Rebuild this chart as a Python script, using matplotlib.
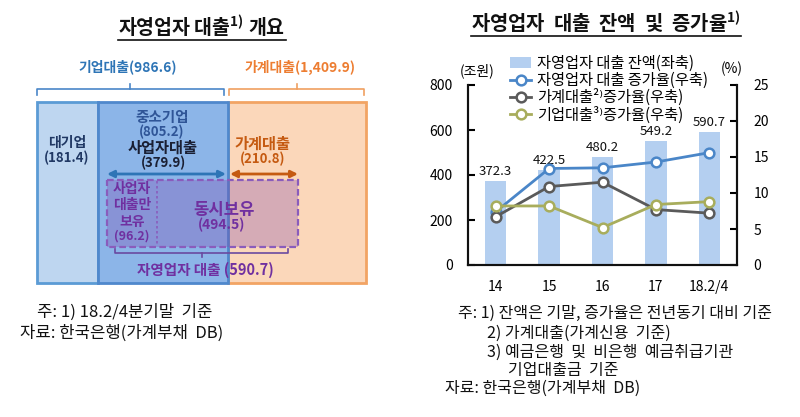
import matplotlib
matplotlib.use('Agg')
import matplotlib.pyplot as plt
from matplotlib.patches import Rectangle

plt.rcParams['font.family'] = ['Noto Sans CJK KR', 'DejaVu Sans']
plt.rcParams['axes.unicode_minus'] = False

# ---- right chart data ----
years = ['14', '15', '16', '17', '18.2/4']
balance = [372.3, 422.5, 480.2, 549.2, 590.7]          # 조원, left axis
growth_self = [7.4, 13.4, 13.5, 14.3, 15.6]            # %, right axis
growth_house = [6.7, 10.9, 11.5, 7.7, 7.2]
growth_corp = [8.2, 8.2, 5.2, 8.4, 8.8]
series_labels = ['자영업자 대출 잔액(좌축)',
                 '자영업자 대출 증가율(우축)',
                 '가계대출²⁾증가율(우축)',
                 '기업대출³⁾증가율(우축)']
left_ticks = [0, 200, 400, 600, 800]
right_ticks = [0, 5, 10, 15, 20, 25]

# ---- left diagram data (조원) ----
corp_total = 986.6
house_total = 1409.9
large_corp = 181.4
sme = 805.2
biz_loan = 379.9
house_loan = 210.8
biz_only = 96.2
both_held = 494.5
self_total = 590.7

left_notes = ['주: 1) 18.2/4분기말  기준', '자료: 한국은행(가계부채  DB)']
right_notes = ['주: 1) 잔액은 기말, 증가율은 전년동기 대비 기준',
               '2) 가계대출(가계신용  기준)',
               '3) 예금은행  및  비은행  예금취급기관',
               '기업대출금  기준',
               '자료: 한국은행(가계부채  DB)']

BLUE_TXT = '#2e75b6'
ORANGE_TXT = '#ed7d31'
DARK_ORANGE = '#c55a11'
PURPLE = '#7030a0'

fig = plt.figure(figsize=(8, 4.17), dpi=100)

# overlay in pixel coordinates for the diagram and all free text
ov = fig.add_axes([0, 0, 1, 1])
ov.set_xlim(0, 800)
ov.set_ylim(417, 0)
ov.axis('off')


def underline_title(x, y, s, size):
    t = ov.text(x, y, s, ha='center', va='center', fontsize=size,
                fontweight='bold', color='#111111')
    fig.canvas.draw()
    bb = t.get_window_extent(fig.canvas.get_renderer())
    ov.plot([bb.x0, bb.x1], [417 - bb.y0 + 1, 417 - bb.y0 + 1],
            color='#111111', lw=1.2)


def brace(x0, x1, xc, y, h, color):
    # hooks go towards +h, centre tick towards -h
    ov.plot([x0, x0, x1, x1], [y + h, y, y, y + h], color=color, lw=1.2)
    ov.plot([xc, xc], [y, y - h * 0.8], color=color, lw=1.2)


underline_title(202, 26, r'자영업자 대출$^{\mathregular{1)}}$ 개요', 14)
underline_title(606, 22, r'자영업자  대출  잔액  및  증가율$^{\mathregular{1)}}$', 14.3)

# ---- left diagram ----
ov.text(128, 67, f'기업대출({corp_total:,.1f})', ha='center', va='center',
        fontsize=10, fontweight='bold', color=BLUE_TXT)
ov.text(300, 67, f'가계대출({house_total:,.1f})', ha='center', va='center',
        fontsize=10, fontweight='bold', color=ORANGE_TXT)
brace(37, 224, 130, 89, 6, '#4a86c8')
brace(229, 364, 297, 89, 6, '#f0a060')

ov.add_patch(Rectangle((228, 102), 138, 181, fc='#fbd7ba', ec='#f2a464', lw=2))
ov.add_patch(Rectangle((37, 102), 61, 181, fc='#bed6f0', ec='#5b9bd5', lw=2))
ov.add_patch(Rectangle((98, 102), 130, 181, fc='#8cb5e8', ec='#4f88cc', lw=2))

ov.text(162, 117, '중소기업', ha='center', va='center', fontsize=10.5,
        fontweight='bold', color='#2f5597')
ov.text(162, 132, f'({sme:.1f})', ha='center', va='center', fontsize=9.5,
        fontweight='bold', color='#2f5597')
ov.text(67, 143, '대기업', ha='center', va='center', fontsize=10,
        fontweight='bold', color='#203864')
ov.text(67, 158, f'({large_corp:.1f})', ha='center', va='center', fontsize=9.5,
        fontweight='bold', color='#203864')
ov.text(163, 148, '사업자대출', ha='center', va='center', fontsize=11,
        fontweight='bold', color='#1a1f33')
ov.text(163, 163, f'({biz_loan:.1f})', ha='center', va='center', fontsize=9.5,
        fontweight='bold', color='#1a1f33')
ov.text(263, 144, '가계대출', ha='center', va='center', fontsize=11,
        fontweight='bold', color=DARK_ORANGE)
ov.text(263, 159, f'({house_loan:.1f})', ha='center', va='center', fontsize=9.5,
        fontweight='bold', color=DARK_ORANGE)

ov.annotate('', xy=(107, 174), xytext=(226, 174),
            arrowprops=dict(arrowstyle='<|-|>', color='#2e75b6', lw=2,
                            mutation_scale=10, shrinkA=0, shrinkB=0))
ov.annotate('', xy=(230, 174), xytext=(298, 174),
            arrowprops=dict(arrowstyle='<|-|>', color=DARK_ORANGE, lw=2,
                            mutation_scale=10, shrinkA=0, shrinkB=0))

ov.add_patch(Rectangle((107, 180), 191, 67, fc=(0.50, 0.28, 0.68, 0.30),
                       ec='#8a5cbc', lw=1.6, ls=(0, (3, 1.5))))
ov.plot([157, 157], [181, 246], color='#8a5cbc', lw=1.2, ls=(0, (1.5, 1.5)))

for txt, yy in zip(['사업자', '대출만', '보유', f'({biz_only:.1f})'],
                   [189, 205, 222, 236]):
    ov.text(132, yy, txt, ha='center', va='center',
            fontsize=10 if '(' not in txt else 9, fontweight='bold', color=PURPLE)
ov.text(224, 210, '동시보유', ha='center', va='center', fontsize=12,
        fontweight='bold', color=PURPLE)
ov.text(222, 225, f'({both_held:.1f})', ha='center', va='center', fontsize=10,
        fontweight='bold', color=PURPLE)
ov.plot([115, 115, 288, 288], [249, 253, 253, 249], color='#6a4aa0', lw=1.2)
ov.plot([202, 202], [253, 257], color='#6a4aa0', lw=1.2)
ov.text(205, 270, f'자영업자 대출 ({self_total:.1f})', ha='center', va='center',
        fontsize=10.5, fontweight='bold', color=PURPLE)

ov.text(37, 312, left_notes[0], ha='left', va='center', fontsize=12, color='#111111')
ov.text(20, 333, left_notes[1], ha='left', va='center', fontsize=12, color='#111111')

# ---- right chart ----
ax = fig.add_axes([468 / 800, (417 - 265) / 417, (737 - 468) / 800, 180 / 417])
x = list(range(len(years)))
bars = ax.bar(x, balance, width=0.4, color='#b4cff0', zorder=1)
for xi, v in zip(x, balance):
    ax.text(xi, v + 14, f'{v:.1f}', ha='center', va='bottom', fontsize=9.5,
            color='#111111')
ax.set_xlim(-0.52, 4.52)
ax.set_ylim(0, 800)
ax.set_yticks(left_ticks)
ax.set_xticks(x)
ax.set_xticklabels(years)

ax2 = ax.twinx()
l1, = ax2.plot(x, growth_self, color='#4a86c8', lw=2, marker='o', ms=7,
               mfc='white', mew=1.8)
l2, = ax2.plot(x, growth_house, color='#5a5a5a', lw=2, marker='o', ms=7,
               mfc='white', mew=1.8)
l3, = ax2.plot(x, growth_corp, color='#a8ad5c', lw=2, marker='o', ms=7,
               mfc='white', mew=1.8)
ax2.set_ylim(0, 25)
ax2.set_yticks(right_ticks)

for a in (ax, ax2):
    a.spines['top'].set_visible(False)
    for s in ('left', 'right', 'bottom'):
        a.spines[s].set_linewidth(1.5)
        a.spines[s].set_color('#111111')
ax.tick_params(axis='y', direction='in', length=5, width=1.5, pad=11,
               labelsize=10)
ax.tick_params(axis='x', length=0, pad=11, labelsize=10)
ax2.tick_params(axis='y', direction='in', length=5, width=1.5, pad=12,
                labelsize=10)

ov.text(477, 71, '(조원)', ha='center', va='center', fontsize=10)
ov.text(732, 69, '(%)', ha='center', va='center', fontsize=10)

fig.legend([bars, l1, l2, l3], series_labels, loc='upper left',
           bbox_to_anchor=(510 / 800, 1 - 55 / 417), frameon=False,
           fontsize=11, handlelength=1.4, handletextpad=0.4,
           labelspacing=0.0, borderpad=0, borderaxespad=0)

note_x = [458, 487, 487, 508, 445]
note_y = [313, 333, 352, 370, 388]
for s, nx, ny in zip(right_notes, note_x, note_y):
    ov.text(nx, ny, s, ha='left', va='center', fontsize=11.5, color='#111111')

fig.savefig('out.png', dpi=100)
